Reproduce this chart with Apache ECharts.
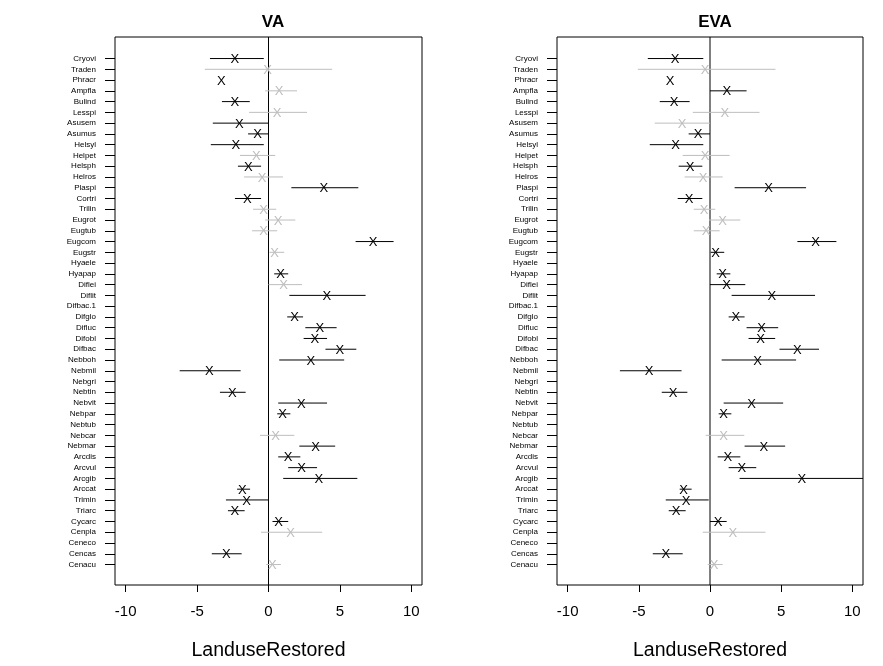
<!DOCTYPE html>
<html>
<head>
<meta charset="utf-8">
<title>VA / EVA</title>
<script src="https://cdn.jsdelivr.net/npm/echarts@6/dist/echarts.min.js"></script>
<style>
  html, body { margin: 0; padding: 0; background: #fff; }
  #chart { width: 883px; height: 666px; }
</style>
</head>
<body>
<div id="chart"></div>
<script>
// species, top to bottom
var cats = ['Cryovi','Traden','Phracr','Ampfla','Bulind','Lesspi','Asusem','Asumus','Helsyl','Helpet',
  'Helsph','Helros','Plaspi','Cortri','Trilin','Eugrot','Eugtub','Eugcom','Eugstr','Hyaele',
  'Hyapap','Diflei','Diflit','Difbac.1','Difglo','Difluc','Difobl','Difbac','Nebboh','Nebmil',
  'Nebgri','Nebtin','Nebvit','Nebpar','Nebtub','Nebcar','Nebmar','Arcdis','Arcvul','Arcgib',
  'Arccat','Trimin','Triarc','Cycarc','Cenpla','Ceneco','Cencas','Cenacu'];

var xTicks = [-10, -5, 0, 5, 10];

// VA
var vaEst = [-2.35,-0.07,-3.31,0.75,-2.35,0.61,-2.04,-0.77,-2.28,-0.85,
  -1.41,-0.45,3.87,-1.48,-0.35,0.68,-0.35,7.32,0.42,null,
  0.85,1.06,4.08,null,1.83,3.59,3.24,5.0,2.96,-4.15,
  null,-2.54,2.3,0.99,null,0.49,3.29,1.38,2.32,3.52,
  -1.83,-1.53,-2.35,0.7,1.55,null,-2.96,0.26];
var vaLow = [-4.1,-4.46,null,-0.23,-3.26,-1.36,-3.9,-1.43,-4.04,-2.0,
  -2.14,-1.71,1.6,-2.35,-1.08,-0.23,-1.15,6.1,0.07,null,
  0.4,0,1.46,null,1.31,2.58,2.46,3.99,0.75,-6.22,
  null,-3.4,0.68,0.61,null,-0.59,2.16,0.68,1.38,1.03,
  -2.2,-2.98,-2.84,0.28,-0.52,null,-3.97,-0.16];
var vaHigh = [-0.33,4.46,null,2.0,-1.31,2.7,0,0,-0.33,0.47,
  -0.52,1.01,6.29,-0.52,0.54,1.88,0.61,8.76,1.1,null,
  1.38,2.35,6.8,null,2.42,4.77,4.1,6.15,5.3,-1.95,
  null,-1.6,4.1,1.53,null,1.81,4.67,2.23,3.4,6.22,
  -1.29,0,-1.67,1.38,3.76,null,-1.88,0.87];
var vaSig = [1,0,1,0,1,0,1,1,1,0, 1,0,1,1,0,0,0,1,0,0,
  1,0,1,0,1,1,1,1,1,1, 0,1,1,1,0,0,1,1,1,1, 1,1,1,1,0,0,1,0];

// EVA
var evaEst = [-2.45,-0.35,-2.8,1.19,-2.52,1.05,-1.96,-0.84,-2.41,-0.35,
  -1.4,-0.49,4.11,-1.47,-0.42,0.89,-0.28,7.41,0.4,null,
  0.89,1.17,4.35,null,1.82,3.62,3.55,6.14,3.34,-4.28,
  null,-2.59,2.92,0.96,null,0.96,3.79,1.26,2.24,6.45,
  -1.85,-1.68,-2.38,0.56,1.61,null,-3.11,0.28];
var evaLow = [-4.37,-5.07,null,0,-3.53,-1.21,-3.88,-1.5,-4.23,-1.92,
  -2.2,-1.78,1.73,-2.27,-1.14,-0.07,-1.14,6.14,0.05,null,
  0.47,0,1.52,null,1.31,2.57,2.71,4.88,0.82,-6.33,
  null,-3.39,0.96,0.61,null,-0.3,2.43,0.54,1.31,2.08,
  -2.13,-3.11,-2.9,0,-0.51,null,-4.02,-0.16];
var evaHigh = [-0.47,4.6,null,2.57,-1.43,3.48,0,0,-0.47,1.38,
  -0.54,0.89,6.75,-0.54,0.37,2.13,0.68,8.88,1.0,null,
  1.43,2.48,7.38,null,2.43,4.79,4.58,7.66,6.05,-2.0,
  null,-1.59,5.14,1.5,null,2.41,5.28,2.13,3.25,11.2,
  -1.29,-0.09,-1.71,1.17,3.9,null,-1.92,0.89];
var evaSig = [1,0,1,1,1,0,0,1,1,0, 1,0,1,1,0,0,0,1,1,0,
  1,1,1,0,1,1,1,1,1,1, 0,1,1,1,0,0,1,1,1,1, 1,1,1,1,0,0,1,0];

var FONT = '"Liberation Sans", Arial, sans-serif';
var rowIdx = cats.map(function (c, i) { return i; });

function rows(est, low, high, sig) {
    var out = [];
    for (var i = 0; i < cats.length; i++) {
        if (est[i] == null) continue;
        out.push([i, est[i], low[i] == null ? '-' : low[i], high[i] == null ? '-' : high[i], sig[i]]);
    }
    return out;
}

function renderBar(params, api) {
    var i = api.value(0), est = api.value(1), lo = api.value(2), hi = api.value(3);
    var col = api.value(4) ? '#000000' : '#bebebe';
    var kids = [];
    if (!isNaN(lo) && !isNaN(hi)) {
        var a = api.coord([lo, i]), b = api.coord([hi, i]);
        kids.push({ type: 'line', shape: { x1: a[0], y1: a[1], x2: b[0], y2: b[1] },
            style: { stroke: col, lineWidth: 1 } });
    }
    var p = api.coord([est, i]);
    kids.push({ type: 'text', style: { text: 'X', x: p[0], y: p[1] + 1, align: 'center',
        verticalAlign: 'middle', font: '13px ' + FONT, fill: col } });
    return { type: 'group', children: kids };
}

function xAx(idx) {
    return {
        type: 'value', gridIndex: idx, min: -10.75, max: 10.75,
        name: 'LanduseRestored', nameLocation: 'middle', nameGap: 56,
        nameTextStyle: { fontSize: 19.5, color: '#000', fontFamily: FONT },
        splitLine: { show: false },
        axisLine: { show: false, onZero: false },
        axisTick: { show: true, length: 7, customValues: xTicks, lineStyle: { color: '#000' } },
        axisLabel: { customValues: xTicks, margin: 19, fontSize: 15, color: '#000', fontFamily: FONT }
    };
}

function yAx(idx) {
    return {
        type: 'value', gridIndex: idx, inverse: true, min: -2, max: 48.9,
        splitLine: { show: false },
        axisLine: { show: false, onZero: false },
        axisTick: { show: true, length: 10, customValues: rowIdx, lineStyle: { color: '#000' } },
        axisLabel: { customValues: rowIdx, margin: 19, fontSize: 8, color: '#000', fontFamily: FONT,
            formatter: function (v) { return cats[v]; } }
    };
}

function zeroLine(idx) {
    return { type: 'line', xAxisIndex: idx, yAxisIndex: idx, data: [[0, -2], [0, 48.9]],
        symbol: 'none', silent: true, lineStyle: { color: '#000', width: 1 }, z: 1 };
}

var chart = echarts.init(document.getElementById('chart'), null, { renderer: 'canvas' });
chart.setOption({
    animation: false,
    backgroundColor: '#fff',
    title: [
        { text: 'VA', left: 268, top: 9, textAlign: 'center',
          textStyle: { fontSize: 17, fontWeight: 'bold', color: '#000', fontFamily: FONT } },
        { text: 'EVA', left: 710, top: 9, textAlign: 'center',
          textStyle: { fontSize: 17, fontWeight: 'bold', color: '#000', fontFamily: FONT } }
    ],
    grid: [
        { left: 115, top: 37, width: 307, height: 552.5, show: true, borderColor: '#000', borderWidth: 1 },
        { left: 557, top: 37, width: 306, height: 552.5, show: true, borderColor: '#000', borderWidth: 1 }
    ],
    xAxis: [xAx(0), xAx(1)],
    yAxis: [yAx(0), yAx(1)],
    series: [
        zeroLine(0),
        zeroLine(1),
        { type: 'custom', xAxisIndex: 0, yAxisIndex: 0, clip: true, renderItem: renderBar,
          encode: { x: [1, 2, 3], y: 0 }, data: rows(vaEst, vaLow, vaHigh, vaSig), z: 3 },
        { type: 'custom', xAxisIndex: 1, yAxisIndex: 1, clip: true, renderItem: renderBar,
          encode: { x: [1, 2, 3], y: 0 }, data: rows(evaEst, evaLow, evaHigh, evaSig), z: 3 }
    ]
});
</script>
</body>
</html>
